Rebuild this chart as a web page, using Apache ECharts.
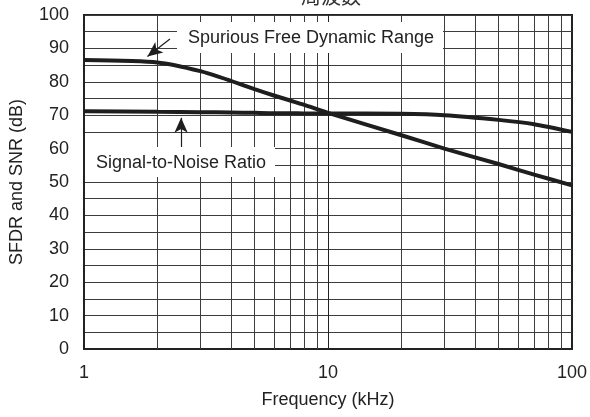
<!DOCTYPE html>
<html>
<head>
<meta charset="utf-8">
<script src="https://cdn.jsdelivr.net/npm/echarts@6/dist/echarts.min.js"></script>
<style>
  html, body { margin: 0; padding: 0; background: #fff; }
  #chart { width: 590px; height: 417px; }
</style>
</head>
<body>
<div id="chart"></div>
<script>
// 读图得到的数据
const freq = [1, 2, 3, 4, 5, 6, 7, 8, 10, 20, 30, 50, 70, 100]
const sfdr = [86.5, 85.8, 83.2, 80.3, 77.8, 75.9, 74.4, 73.1, 70.7, 64, 60, 55.4, 52.2, 49]
const snr  = [71.2, 71, 70.9, 70.8, 70.7, 70.6, 70.6, 70.5, 70.5, 70.4, 70, 68.6, 67.3, 65]

// 竖直网格线（对数刻度 2..9, 20..90）
const gridFreqs = [2, 3, 4, 5, 6, 7, 8, 9, 20, 30, 40, 50, 60, 70, 80, 90]

// 标注箭头（数据坐标）
const sfdrArrow = [[2.25, 92.8], [1.82, 87.6]]
const snrArrow  = [[2.5, 59.5], [2.5, 69.2]]

const chart = echarts.init(document.getElementById('chart'))

const fontFamily = 'Liberation Sans, Arial, sans-serif'
const gridColor = '#3c3c3c'

chart.setOption({
  animation: false,
  grid: {
    left: 83, right: 14, top: 15, bottom: 68,
    show: true,
    borderColor: '#222',
    borderWidth: 2,
  },
  xAxis: {
    type: 'log',
    logBase: 10,
    min: 1,
    max: 100,
    name: 'Frequency (kHz)',
    nameLocation: 'middle',
    nameGap: 42,
    nameTextStyle: { fontSize: 18, color: '#222', fontFamily },
    axisLine: { show: true, lineStyle: { color: '#222', width: 2 } },
    axisTick: { show: false },
    axisLabel: { fontSize: 18, color: '#222', margin: 15, fontFamily },
    splitLine: { show: true, lineStyle: { color: '#222', width: 1 } },
  },
  yAxis: {
    type: 'value',
    min: 0,
    max: 100,
    interval: 10,
    name: 'SFDR and SNR (dB)',
    nameLocation: 'middle',
    nameGap: 58,
    nameTextStyle: { fontSize: 18, color: '#222', fontFamily },
    axisLine: { show: true, lineStyle: { color: '#222', width: 2 } },
    axisTick: { show: false },
    axisLabel: { fontSize: 18, color: '#222', margin: 15, fontFamily },
    splitLine: { show: true, lineStyle: { color: gridColor, width: 1 } },
    minorTick: { show: false, splitNumber: 2 },
    minorSplitLine: { show: true, lineStyle: { color: gridColor, width: 1 } },
  },
  graphic: [
    {
      type: 'text',
      z: 100,
      x: 331, y: -14,
      style: {
        text: '周波数', fontSize: 20, fill: '#333', fontFamily: 'Noto Sans CJK JP',
        align: 'center', verticalAlign: 'top',
      },
    },
    {
      type: 'rect',
      z: 100,
      shape: { x: 177, y: 22, width: 266, height: 31 },
      style: { fill: '#fff' },
    },
    {
      type: 'text',
      z: 101,
      x: 311, y: 38,
      style: {
        text: 'Spurious Free Dynamic Range',
        fontSize: 18, fill: '#222', fontFamily,
        align: 'center', verticalAlign: 'middle',
      },
    },
    {
      type: 'rect',
      z: 100,
      shape: { x: 85, y: 147, width: 190, height: 30 },
      style: { fill: '#fff' },
    },
    {
      type: 'text',
      z: 101,
      x: 181, y: 163,
      style: {
        text: 'Signal-to-Noise Ratio',
        fontSize: 18, fill: '#222', fontFamily,
        align: 'center', verticalAlign: 'middle',
      },
    },
  ],
  series: [
    {
      name: 'SFDR',
      type: 'line',
      data: freq.map((f, i) => [f, sfdr[i]]),
      showSymbol: false,
      smooth: 0.2,
      z: 5,
      lineStyle: { color: '#1e1e1e', width: 4 },
      markLine: {
        silent: true,
        symbol: ['none', 'arrow'],
        symbolSize: [10, 15],
        label: { show: false },
        lineStyle: { color: '#1e1e1e', width: 1.2, type: 'solid' },
        data: [
          [{ coord: sfdrArrow[0] }, { coord: sfdrArrow[1] }],
          [{ coord: snrArrow[0] }, { coord: snrArrow[1] }],
        ],
      },
    },
    {
      name: 'SNR',
      type: 'line',
      data: freq.map((f, i) => [f, snr[i]]),
      showSymbol: false,
      smooth: 0.2,
      z: 5,
      lineStyle: { color: '#1e1e1e', width: 4 },
      markLine: {
        silent: true,
        symbol: ['none', 'none'],
        label: { show: false },
        z: 1,
        lineStyle: { color: gridColor, width: 1, type: 'solid' },
        data: gridFreqs.map(v => ({ xAxis: v })),
      },
    },
  ],
})
</script>
</body>
</html>
